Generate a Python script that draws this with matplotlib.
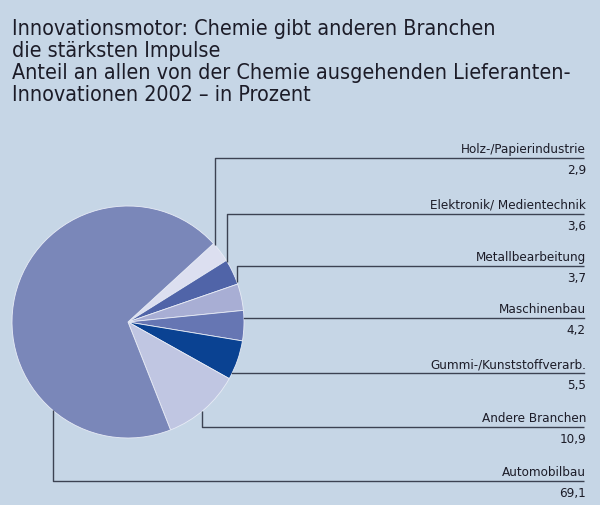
import matplotlib.pyplot as plt
import numpy as np

# Werte aus der Grafik (Prozent), im Uhrzeigersinn ab oben rechts
branchen = ["Holz-/Papierindustrie", "Elektronik/ Medientechnik", "Metallbearbeitung",
            "Maschinenbau", "Gummi-/Kunststoffverarb.", "Andere Branchen", "Automobilbau"]
anteile = [2.9, 3.6, 3.7, 4.2, 5.5, 10.9, 69.1]
anteil_text = ["2,9", "3,6", "3,7", "4,2", "5,5", "10,9", "69,1"]
farben = ["#dcdff0", "#5064a8", "#a8aed4", "#6676b3", "#0a4292", "#c0c6e2", "#7a87b9"]

bg = "#c6d6e6"
linie = "#3c4252"
txt = "#1c1c28"
font = dict(family="DejaVu Sans", stretch="condensed")

W, H = 600, 506
fig = plt.figure(figsize=(6, 5.06), dpi=100, facecolor=bg)
ax = fig.add_axes([0, 0, 1, 1])
ax.set_facecolor(bg)

cx, cy, r = 128, H - 323, 116
ax.pie(anteile, colors=farben, startangle=42.5, counterclock=False,
       center=(cx, cy), radius=r, frame=True,
       wedgeprops=dict(edgecolor="#e8ecf6", linewidth=0.6))
ax.set_xlim(0, W)
ax.set_ylim(0, H)
ax.set_aspect("equal")
ax.axis("off")

# Titel
ax.text(12, H - 19, "Innovationsmotor: Chemie gibt anderen Branchen\ndie stärksten Impulse\n"
        "Anteil an allen von der Chemie ausgehenden Lieferanten-\nInnovationen 2002 – in Prozent",
        fontsize=15.4, color=txt, va="top", linespacing=1.12, **font)

# Beschriftungen mit Führungslinien
zeilen_y = [159, 215, 267, 319, 374, 428, 482]
# "v": senkrecht bei x bis zum Kreisrand, "h": waagerecht vom Kreisrand
anker = [("v", 215), ("v", 227), ("v", 237), ("h", None), ("h", None), ("v", 202), ("v", 53)]
x_end = 584
for name, wert, yp, (art, ax_x) in zip(branchen, anteil_text, zeilen_y, anker):
    y = H - yp
    if art == "v":
        dx = ax_x - cx
        dy = np.sqrt(r ** 2 - dx ** 2)
        y0 = cy + dy if y > cy else cy - dy
        ax.plot([ax_x, ax_x, x_end], [y0, y, y], color=linie, lw=1.0, solid_capstyle="butt")
    else:
        dy = y - cy
        x0 = cx + np.sqrt(r ** 2 - dy ** 2)
        ax.plot([x0, x_end], [y, y], color=linie, lw=1.0)
    ax.text(x_end + 2, y + 3, name, ha="right", va="bottom", fontsize=9.6,
            color=txt, **font)
    ax.text(x_end + 2, y - 5, wert, ha="right", va="top", fontsize=9.6,
            color=txt, **font)

fig.savefig("out.png", dpi=100, facecolor=bg)
